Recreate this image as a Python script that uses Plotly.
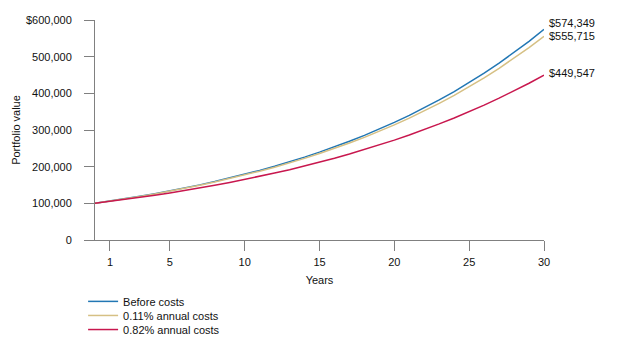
import plotly.graph_objects as go

years = list(range(0, 31))
before_costs = [100000, 106000, 112360, 119102, 126248, 133823, 141852, 150363, 159385, 168948,
                179085, 189830, 201220, 213293, 226090, 239656, 254035, 269277, 285434, 302560,
                320714, 339956, 360354, 381975, 404893, 429187, 454938, 482235, 511169, 541839,
                574349]
costs_011 = [100000, 105885, 112116, 118714, 125700, 133098, 140931, 149225, 158007, 167306,
             177152, 187578, 198617, 210306, 222683, 235788, 249665, 264358, 279916, 296390,
             313833, 332303, 351860, 372567, 394494, 417710, 442293, 468323, 495884, 524900,
             555715]
costs_082 = [100000, 105138, 110540, 116220, 122191, 128470, 135071, 142011, 149308, 156979,
             165045, 173525, 182441, 191815, 201671, 212033, 222928, 234382, 246425, 259087,
             272399, 286395, 301111, 316582, 332848, 349951, 367932, 386836, 406713, 427611,
             449547]
series_names = ["Before costs", "0.11% annual costs", "0.82% annual costs"]
end_labels = ["$574,349", "$555,715", "$449,547"]
colors = ["#2277b4", "#d6c084", "#c8174e"]
x_tickvals = [1, 5, 10, 15, 20, 25, 30]
y_tickvals = [0, 100000, 200000, 300000, 400000, 500000, 600000]
y_ticktext = ["0", "100,000", "200,000", "300,000", "400,000", "500,000", "$600,000"]

FONT = "Liberation Sans, Arial, sans-serif"
data = [before_costs, costs_011, costs_082]
legend_keys = ["legend", "legend2", "legend3"]
label_shifts = [6, 0, 2]

fig = go.Figure()
for name, vals, col, lk in zip(series_names, data, colors, legend_keys):
    fig.add_trace(go.Scatter(x=years, y=vals, mode="lines", name=name, showlegend=True,
                             line=dict(color=col, width=1.5), legend=lk))

for vals, lab, ys_ in zip(data, end_labels, label_shifts):
    fig.add_annotation(x=years[-1], y=vals[-1], text=lab, showarrow=False,
                       xanchor="left", yanchor="middle", xshift=3, yshift=ys_,
                       font=dict(family=FONT, size=11, color="#111"))

axis_color = "#808080"
legend_common = dict(x=-0.0265, xanchor="left", yanchor="middle", bgcolor="rgba(0,0,0,0)",
                     font=dict(family=FONT, size=11, color="#111"), borderwidth=0)
ys = [-0.279, -0.343, -0.407]
fig.update_layout(
    width=620, height=350,
    showlegend=True,
    margin=dict(l=95, r=76, t=20, b=110, autoexpand=False),
    paper_bgcolor="white", plot_bgcolor="white",
    font=dict(family=FONT, size=11, color="#111"),
    legend=dict(y=ys[0], **legend_common),
    legend2=dict(y=ys[1], **legend_common),
    legend3=dict(y=ys[2], **legend_common),
    xaxis=dict(range=[0, 30], tickvals=x_tickvals, showgrid=False, zeroline=False,
               showline=True, linecolor=axis_color, linewidth=1,
               ticks="outside", ticklen=10, tickcolor=axis_color, ticklabelstandoff=2,
               tickfont=dict(family=FONT, size=11, color="#111"),
               title=dict(text="Years", font=dict(family=FONT, size=11, color="#111"), standoff=9)),
    yaxis=dict(range=[0, 600000], tickvals=y_tickvals, ticktext=y_ticktext, showgrid=False,
               zeroline=False, showline=True, linecolor=axis_color, linewidth=1,
               ticks="outside", ticklen=10, tickcolor=axis_color, ticklabelstandoff=10,
               tickfont=dict(family=FONT, size=11, color="#111"),
               title=dict(text="Portfolio value", font=dict(family=FONT, size=11, color="#111"), standoff=3)),
)

fig.write_html("out.html")
